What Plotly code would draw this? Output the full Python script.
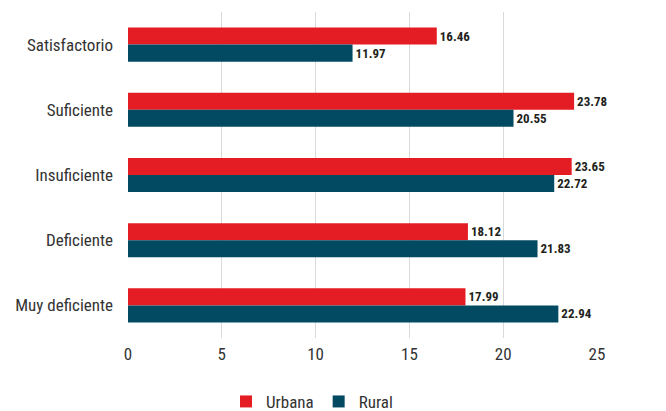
import plotly.graph_objects as go

categories = ["Satisfactorio", "Suficiente", "Insuficiente", "Deficiente", "Muy deficiente"]
urbana = [16.46, 23.78, 23.65, 18.12, 17.99]
rural = [11.97, 20.55, 22.72, 21.83, 22.94]
tick_vals = [0, 5, 10, 15, 20, 25]

FONT = "Roboto Condensed, Liberation Sans Narrow, DejaVu Sans Condensed, sans-serif"
RED = "#E41D25"
TEAL = "#024A62"
TXT = "#333333"

fig = go.Figure()
fig.add_trace(go.Bar(
    y=categories, x=urbana, name="Urbana", orientation="h",
    marker=dict(color=RED, line=dict(width=0)),
    text=[f"{v:.2f}" for v in urbana], textposition="outside",
    textfont=dict(family=FONT, size=13, color="#231F20", weight="bold"),
    cliponaxis=False,
))
fig.add_trace(go.Bar(
    y=categories, x=rural, name="Rural", orientation="h",
    marker=dict(color=TEAL, line=dict(width=0)),
    text=[f"{v:.2f}" for v in rural], textposition="outside",
    textfont=dict(family=FONT, size=13, color="#231F20", weight="bold"),
    cliponaxis=False,
))

fig.update_layout(
    width=666, height=411,
    margin=dict(l=128, r=69, t=12, b=73, autoexpand=False),
    barmode="group", bargap=0.477, bargroupgap=0,
    plot_bgcolor="white", paper_bgcolor="white",
    font=dict(family=FONT, size=17, color=TXT),
    xaxis=dict(range=[0, 25], tickvals=tick_vals, showgrid=True,
               gridcolor="#D9D9D9", gridwidth=1, zeroline=False,
               showline=False, ticks="", ticklabelstandoff=4,
               tickfont=dict(size=17, color=TXT)),
    yaxis=dict(autorange="reversed", showgrid=False, showline=False,
               ticks="", ticklabelstandoff=14,
               tickfont=dict(size=17, color=TXT)),
    legend=dict(orientation="h", x=0.209, xanchor="left", y=-0.196, yanchor="middle",
                font=dict(size=17, color=TXT), itemwidth=30),
    showlegend=True,
)

fig.write_html("out.html", config={"displayModeBar": False},
               post_script="document.body.style.margin='0';")
